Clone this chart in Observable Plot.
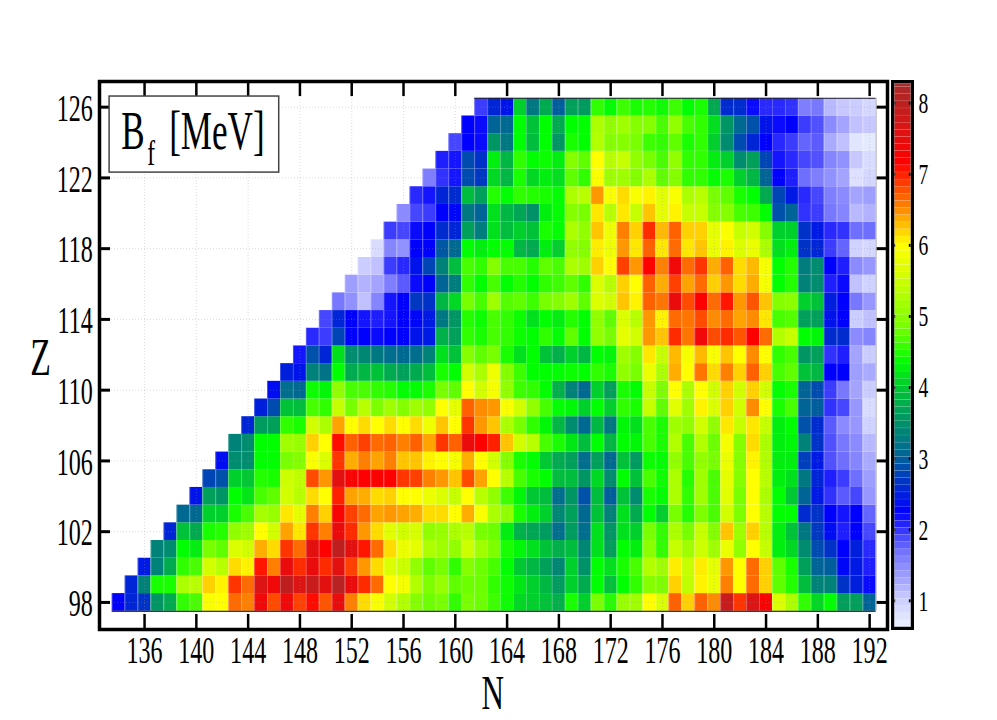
<!DOCTYPE html>
<html>
<head>
<meta charset="utf-8">
<script src="https://cdn.jsdelivr.net/npm/d3@7"></script>
<script src="https://cdn.jsdelivr.net/npm/@observablehq/plot@0.6"></script>
<style>
html,body{margin:0;padding:0;background:#fff}
#wrap{position:relative;width:997px;height:720px;overflow:hidden}
#wrap svg{position:absolute;top:0;background:transparent}
</style>
</head>
<body>
<div id="wrap"></div>
<script>
// Each row starts at N = Z + 36 and runs to N = 192
const z98=[2.2,2.5,2.6,3.5,3.7,4.5,4.6,5.9,5.95,6.6,6.5,7.3,6.75,7.3,6.8,7.05,6.7,7.4,6.5,6.1,5.9,5.5,5.25,4.9,4.75,4.8,4.5,4.8,4.75,4.55,4.35,4.05,4.0,3.9,3.75,4.4,4.0,4.8,4.45,5.05,5.1,5.95,5.6,6.65,6.15,6.65,6.45,7.8,6.85,7.6,7.15,5.6,5.2,4.5,4.05,4.3,3.6,3.6,3.0];
const z99=[2.5,3.3,4.4,4.4,5.2,5.3,6.15,6.0,6.85,6.6,7.6,7.3,7.9,7.6,7.8,7.5,8.0,7.4,6.9,6.6,5.95,5.85,5.25,4.85,5.05,4.7,4.75,4.75,4.5,4.35,4.15,4.0,3.8,3.55,4.0,3.7,4.3,3.9,4.3,4.5,4.9,4.85,6.15,5.35,6.0,5.75,6.5,5.95,6.6,6.15,4.7,4.45,3.85,3.3,3.3,2.6,2.45,2.15];
const z100=[2.4,3.3,3.7,4.5,4.6,5.5,5.3,6.1,6.0,7.0,6.5,7.4,6.9,7.4,6.9,7.5,6.8,6.4,6.1,5.6,5.45,5.0,4.7,4.8,4.5,4.9,4.75,4.6,4.3,3.95,3.8,3.6,3.35,4.0,3.45,4.3,4.1,4.4,4.6,5.25,5.1,6.03,5.4,6.03,5.7,6.4,5.95,6.6,6.15,4.7,4.4,3.6,3.0,2.95,2.25,2.4,2.05];
const z101=[3.3,3.4,4.3,4.2,4.8,4.7,5.6,5.5,6.3,6.1,6.85,6.6,7.5,7.1,7.9,7.5,7.0,6.6,6.1,5.75,5.7,5.2,5.1,5.0,5.45,5.1,4.85,4.4,4.25,4.1,3.9,3.75,3.85,3.35,4.1,3.6,4.3,4.2,4.95,4.5,5.4,5.1,5.45,5.1,5.75,5.0,5.95,5.4,4.2,4.05,3.4,2.8,2.6,2.2,2.45,2.0];
const z102=[2.5,3.9,3.7,4.4,4.45,5.0,5.1,5.95,5.5,6.35,6.05,6.85,6.5,7.4,6.9,6.4,6.1,5.65,5.5,5.55,5.0,5.05,5.2,5.3,4.8,4.75,4.2,3.75,3.65,3.55,3.1,3.55,3.1,4.1,3.5,4.1,4.0,4.8,4.5,5.2,4.8,5.4,4.9,6.2,5.1,6.15,5.3,4.2,3.9,3.2,2.65,2.3,2.05,2.2,1.85];
const z103=[3.05,3.05,4.0,4.0,4.4,4.6,5.15,5.05,6.05,5.7,6.5,6.15,7.2,6.8,6.6,6.35,6.4,6.35,6.3,6.1,6.1,5.95,6.3,5.9,5.2,5.0,4.4,4.2,4.0,3.35,3.6,3.05,3.9,3.3,4.1,3.7,4.3,4.0,4.8,4.45,4.85,4.6,5.5,4.85,5.95,5.3,4.3,4.3,2.55,2.6,2.2,2.1,2.2,1.7];
const z104=[2.35,3.6,3.5,4.3,4.15,4.6,4.7,5.5,5.3,6.1,5.95,6.95,6.35,6.3,6.1,6.15,5.95,5.95,5.75,5.6,5.4,5.95,5.3,5.0,4.55,4.25,3.95,3.85,3.1,3.5,2.85,3.85,2.95,3.9,3.4,4.4,4.3,5.2,4.5,5.1,4.6,5.65,4.8,5.95,5.2,4.3,3.95,3.0,2.4,1.95,1.75,1.85,1.35];
const z105=[2.75,2.85,4.0,3.95,4.45,4.4,5.45,5.35,6.75,6.4,7.5,7.2,7.1,7.15,7.1,6.85,6.8,6.5,6.4,6.2,6.75,6.35,5.95,5.3,4.6,4.4,4.3,3.85,3.85,3.5,4.05,3.4,4.3,3.9,4.6,4.35,5.2,4.45,5.1,4.6,5.7,4.9,5.95,5.3,4.2,4.1,3.2,2.5,2.05,1.9,1.65,1.3];
const z106=[2.3,3.4,3.4,4.3,4.3,4.8,4.9,5.9,5.6,6.85,6.3,6.5,6.35,6.5,6.2,6.2,6.0,5.95,5.85,6.3,5.95,5.5,4.9,4.4,4.3,3.95,3.7,3.6,3.1,3.6,3.05,3.9,3.55,4.35,4.3,5.0,4.6,5.0,4.8,5.75,4.9,6.0,5.25,4.2,4.2,2.7,2.4,1.8,1.65,1.5,1.2];
const z107=[3.3,3.4,4.3,4.3,5.1,5.05,6.15,5.95,7.05,6.65,6.8,6.6,6.65,6.5,6.65,6.35,6.85,6.65,7.4,7.1,6.95,6.2,5.5,5.3,4.6,4.4,4.15,3.85,4.3,3.8,4.3,4.25,4.6,4.4,5.25,4.6,5.25,4.75,5.85,4.9,6.1,5.2,4.2,4.25,3.3,2.6,1.8,1.6,1.45,1.1];
const z108=[2.5,3.55,3.6,4.5,4.4,5.5,5.2,6.35,5.95,6.1,5.95,6.1,5.95,6.1,5.8,6.2,5.95,6.85,6.4,6.2,5.2,4.8,4.5,4.25,3.8,3.4,3.05,3.8,3.2,4.25,4.1,4.6,4.4,5.1,5.0,5.5,5.0,6.05,5.4,6.05,5.4,4.2,4.3,2.85,2.55,1.75,1.45,1.35,0.9];
const z109=[2.45,2.8,3.9,3.85,4.6,4.5,5.4,4.8,5.3,4.85,5.1,4.9,5.1,5.0,5.95,5.7,6.65,6.45,6.4,5.9,5.5,5.0,4.6,4.3,4.25,4.0,4.3,4.0,4.5,4.4,5.4,4.7,5.65,5.1,6.0,5.6,6.15,5.5,6.45,5.95,4.4,4.6,3.0,2.95,1.95,1.85,1.35,0.8];
const z110=[2.3,3.1,3.05,4.35,4.25,5.0,4.6,4.6,4.5,4.45,4.3,4.3,4.4,4.8,4.7,5.95,5.5,5.85,5.0,4.55,4.5,4.3,3.75,3.3,3.05,4.0,3.6,4.4,4.3,5.4,4.85,5.95,5.2,5.95,5.5,6.15,5.5,6.15,5.5,4.3,4.4,3.0,2.8,1.9,1.6,1.25,0.95];
const z111=[2.45,2.35,3.3,3.15,4.3,3.7,3.8,3.9,3.7,3.6,3.7,3.85,4.4,4.3,5.5,5.2,5.8,4.9,4.55,4.3,4.3,4.3,4.35,4.3,4.5,4.4,5.0,4.8,5.75,5.2,6.3,5.95,6.55,6.1,6.5,6.15,6.65,6.15,4.6,4.7,3.9,3.8,2.2,2.2,1.3,1.2];
const z112=[2.1,2.85,2.5,4.1,3.4,3.35,3.2,3.1,3.05,3.1,3.3,4.1,3.9,4.9,4.7,4.8,4.4,4.1,4.3,3.9,3.75,4.0,3.8,4.3,4.25,5.1,4.9,6.05,5.4,6.25,5.85,6.25,5.9,6.2,5.95,6.45,5.95,4.5,4.6,3.5,3.6,1.95,2.05,1.25,0.95];
const z113=[2.0,1.9,2.75,2.2,2.2,2.15,2.2,2.2,2.35,2.4,3.75,3.6,4.5,4.4,4.6,4.5,4.35,4.3,4.5,4.3,4.7,4.3,5.0,4.8,5.7,5.5,6.4,6.2,6.9,6.55,7.3,6.75,6.9,6.7,7.1,6.6,5.25,5.4,4.3,4.25,2.55,2.55,1.45,1.5];
const z114=[1.85,2.5,2.2,2.1,2.05,2.1,2.2,2.25,2.4,3.2,3.5,4.45,4.35,4.6,4.5,4.35,4.1,4.3,4.2,4.45,4.3,5.0,4.7,5.6,5.3,6.4,6.0,6.6,6.55,6.75,6.45,6.6,6.35,6.45,6.05,4.6,4.65,3.6,3.6,2.35,2.2,0.95,1.05];
const z115=[1.6,1.4,1.05,1.5,2.1,2.2,2.65,2.6,3.8,4.05,4.8,4.6,5.1,4.65,4.7,4.55,4.8,4.9,5.1,4.7,5.6,5.5,6.2,6.0,6.65,6.55,7.4,6.75,7.1,6.6,7.0,6.4,6.7,6.2,4.9,4.95,4.0,3.9,2.45,2.2,1.6,1.35];
const z116=[1.3,1.15,1.25,1.55,1.75,2.15,2.2,3.0,3.25,4.5,4.3,4.6,4.3,4.45,4.3,4.5,4.55,4.7,4.5,5.6,5.3,6.15,5.95,6.65,6.3,6.8,6.35,6.6,6.15,6.4,6.1,6.3,5.85,4.3,4.45,3.3,3.4,2.05,2.15,1.05,0.9];
const z117=[0.95,1.05,1.9,2.0,2.35,2.75,3.3,3.85,4.6,4.5,4.9,4.6,4.6,4.45,4.7,4.6,5.2,5.1,6.15,5.95,6.8,6.4,7.1,6.5,7.3,6.6,6.85,6.3,6.65,6.1,6.25,5.85,4.3,4.45,3.25,3.4,2.2,2.05,1.45,1.35];
const z118=[0.8,1.5,1.4,2.2,2.2,2.9,3.05,4.3,4.2,4.3,4.3,3.8,3.7,4.2,4.0,5.0,4.9,6.03,5.8,6.4,6.05,6.65,6.05,6.6,6.05,6.2,5.75,6.0,5.6,5.75,5.2,4.1,4.2,2.6,2.5,1.9,1.7,0.9,0.85];
const z119=[1.9,1.85,2.15,2.2,2.55,2.5,3.6,3.25,4.1,3.85,4.0,3.9,4.4,4.3,5.2,5.0,6.2,5.8,6.5,6.15,6.9,6.25,6.65,6.15,6.15,5.7,5.9,5.4,5.5,4.9,4.0,4.0,2.6,2.4,2.0,1.95,1.65,1.65];
const z120=[1.45,1.85,1.9,2.2,2.25,3.2,3.0,4.1,3.8,3.65,3.45,4.2,4.3,4.9,4.8,6.05,5.3,6.05,5.4,6.2,5.7,6.0,5.4,5.4,4.9,4.9,4.6,4.55,4.3,2.85,3.0,1.95,1.9,1.6,1.5,1.1,1.15];
const z121=[2.0,2.1,2.5,2.55,3.85,3.6,4.45,4.3,4.5,4.45,4.4,4.3,5.2,5.3,6.4,5.9,6.1,5.9,6.0,5.65,5.9,5.2,5.3,4.8,4.7,4.4,4.3,3.7,2.75,2.4,2.0,1.85,1.55,1.45,1.25,1.3];
const z122=[1.55,1.95,2.1,2.8,2.65,4.05,3.8,4.4,4.05,4.2,4.1,4.7,4.5,5.9,5.1,5.1,4.9,5.2,4.7,4.9,4.5,4.5,4.3,4.4,4.0,3.8,3.0,2.2,2.05,1.65,1.55,1.4,1.25,0.75,0.85];
const z123=[2.05,2.1,2.8,2.6,4.2,3.8,4.5,4.3,4.35,4.2,4.9,4.7,5.95,5.3,5.4,5.0,4.8,4.6,5.0,4.5,4.5,4.2,4.0,3.4,3.6,2.75,2.1,2.0,1.85,1.8,1.5,1.4,1.0,0.8];
const z124=[1.85,2.2,2.15,3.5,3.2,4.3,3.85,4.3,3.5,4.4,4.3,5.25,4.9,4.9,4.8,4.55,4.5,4.7,4.4,4.5,4.0,3.4,2.8,2.5,2.2,2.0,1.9,1.7,1.75,1.2,1.05,0.7,0.65];
const z125=[2.2,2.15,3.0,3.05,4.3,3.9,4.3,3.7,4.3,4.3,5.2,5.0,5.1,4.9,4.9,4.6,5.0,4.6,4.5,4.1,3.5,3.05,2.85,2.35,2.15,2.2,1.9,1.8,1.45,1.25,1.05,1.0];
const z126=[1.9,2.5,2.35,4.0,3.2,3.7,2.95,3.6,3.55,4.5,4.3,4.55,4.4,4.45,4.35,4.55,4.3,4.4,3.7,2.55,2.55,2.15,2.0,2.0,1.95,1.55,1.6,1.1,1.0,0.95,0.85];

const rows=[z98,z99,z100,z101,z102,z103,z104,z105,z106,z107,z108,z109,z110,z111,z112,z113,z114,z115,z116,z117,z118,z119,z120,z121,z122,z123,z124,z125,z126];
const firstZ=98, startOffset=36;

const nTicks=[136,140,144,148,152,156,160,164,168,172,176,180,184,188,192];
const zTicks=[98,102,106,110,114,118,122,126];
const barTicks=[1,2,3,4,5,6,7,8];

const colorDomain=[0.62,1,1.2,1.6,1.9,2.2,2.6,3,3.3,3.6,3.95,4.3,4.8,5.5,5.95,6.5,7.1,7.6,7.9,8.29];
const colorRange=["#e8eeff","#c8c8ff","#aaaaff","#7878ff","#3c3cff","#0000ff","#0032c8","#006496","#008278","#00a05a","#00c832","#00ff00","#78ff00","#d2ff00","#ffff00","#ff8000","#ff0000","#dc1414","#be1e1e","#a52d2d"];

const cells=rows.flatMap((vals,r)=>vals.map((v,i)=>({N:firstZ+r+startOffset+i,Z:firstZ+r,B:v})));

const xDomain=[132.52,193.38], yDomain=[96.47,127.45];
const family="Liberation Serif";
const box=[{x1:133.3,x2:146.4,y1:122.3,y2:126.6}];

const main=Plot.plot({
  width:997,height:720,marginLeft:99,marginRight:110,marginTop:81,marginBottom:91,
  style:{fontFamily:family,color:"#000",background:"transparent"},
  x:{domain:xDomain,label:null,axis:null},
  y:{domain:yDomain,label:null,axis:null},
  color:{type:"linear",domain:colorDomain,range:colorRange,interpolate:"rgb"},
  marks:[
    Plot.rect(cells,{x1:d=>d.N-.5,x2:d=>d.N+.5,y1:d=>d.Z-.5,y2:d=>d.Z+.5,fill:"B",inset:0}),
    Plot.ruleX(cells,{x:d=>d.N-.5,y1:d=>d.Z-.5,y2:d=>d.Z+.5,stroke:"#fff",strokeOpacity:.3,strokeWidth:.8}),
    Plot.ruleX(nTicks,{stroke:"#999",strokeOpacity:.35,strokeDasharray:"1,2",strokeWidth:1}),
    Plot.ruleY(zTicks,{stroke:"#999",strokeOpacity:.35,strokeDasharray:"1,2",strokeWidth:1}),
    Plot.ruleY([97.5],{x1:133.5,x2:192.5,stroke:"#000",strokeWidth:1}),
    Plot.ruleY([126.5],{x1:161.5,x2:192.5,stroke:"#223",strokeWidth:1}),
    Plot.ruleX([192.5],{y1:97.5,y2:126.5,stroke:"#aaa",strokeWidth:1}),
    Plot.ruleX(nTicks,{y1:yDomain[0],y2:yDomain[0]+.85,stroke:"#000",strokeWidth:2.5}),
    Plot.ruleX(nTicks,{y1:yDomain[1]-.85,y2:yDomain[1],stroke:"#000",strokeWidth:2.5}),
    Plot.ruleY(zTicks,{x1:xDomain[0],x2:xDomain[0]+.85,stroke:"#000",strokeWidth:3}),
    Plot.ruleY(zTicks,{x1:xDomain[1]-.8,x2:xDomain[1],stroke:"#000",strokeWidth:3}),
    Plot.frame({stroke:"#000",strokeWidth:3.5}),
    Plot.rect(box,{x1:"x1",x2:"x2",y1:"y1",y2:"y2",fill:"#fff",stroke:"#444",strokeWidth:1.5}),
    Plot.text(["B"],{x:134.2,y:123.66,text:d=>d,fontSize:54,textAnchor:"start",lineAnchor:"bottom",fontFamily:family,fill:"#000"}),
    Plot.text(["f"],{x:136.2,y:122.72,text:d=>d,fontSize:36,textAnchor:"start",lineAnchor:"bottom",fontFamily:family,fill:"#000"}),
    Plot.text(["[MeV]"],{x:137.9,y:123.66,text:d=>d,fontSize:54,textAnchor:"start",lineAnchor:"bottom",fontFamily:family,fill:"#000"}),
    Plot.text(["N"],{x:162.9,y:91.95,text:d=>d,fontSize:48,textAnchor:"middle",lineAnchor:"bottom",fontFamily:family,fill:"#000"}),
    Plot.text(["Z"],{x:127.97,y:110.83,text:d=>d,fontSize:52,textAnchor:"middle",lineAnchor:"bottom",fontFamily:family,fill:"#000"}),
    Plot.text(nTicks,{x:d=>d,y:yDomain[0]-1.88,text:d=>String(d),fontSize:37,textAnchor:"middle",lineAnchor:"bottom",fontFamily:family,fill:"#000"}),
    Plot.text(zTicks,{x:132.0,y:d=>d-.78,text:d=>String(d),fontSize:37,textAnchor:"end",lineAnchor:"bottom",fontFamily:family,fill:"#000"})
  ]
});
main.style.left="0px";
document.getElementById("wrap").appendChild(main);

const levels=d3.range(0.625,8.29,0.1);
const bar=Plot.plot({
  width:117,height:720,marginLeft:13,marginRight:86,marginTop:82,marginBottom:93,
  style:{fontFamily:family,color:"#000",background:"transparent"},
  x:{domain:[0,1],axis:null,label:null},
  y:{domain:[0.625,8.29],axis:null,label:null},
  color:{type:"linear",domain:colorDomain,range:colorRange,interpolate:"rgb"},
  marks:[
    Plot.rect(levels,{x1:0,x2:1,y1:d=>d,y2:d=>Math.min(d+.1,8.29),fill:d=>d,stroke:"#fff",strokeOpacity:.12,strokeWidth:.6}),
    Plot.ruleY(barTicks,{x1:0,x2:.12,stroke:"#000",strokeWidth:3}),
    Plot.ruleY(barTicks,{x1:.88,x2:1,stroke:"#000",strokeWidth:3}),
    Plot.frame({stroke:"#888",strokeWidth:1,inset:.5}),
    Plot.frame({stroke:"#000",strokeWidth:3,inset:-1}),
    Plot.text(barTicks,{x:1,y:d=>d-.14,dx:7,text:d=>String(d),fontSize:30,textAnchor:"start",lineAnchor:"bottom",fontFamily:family,fill:"#000"})
  ]
});
bar.style.left="880px";
document.getElementById("wrap").appendChild(bar);

// The reference's lettering is horizontally condensed
document.querySelectorAll("#wrap svg text").forEach(t=>{
  const len=t.getComputedTextLength();
  t.setAttribute("textLength",(len*0.65).toFixed(1));
  t.setAttribute("lengthAdjust","spacingAndGlyphs");
});
</script>
</body>
</html>
